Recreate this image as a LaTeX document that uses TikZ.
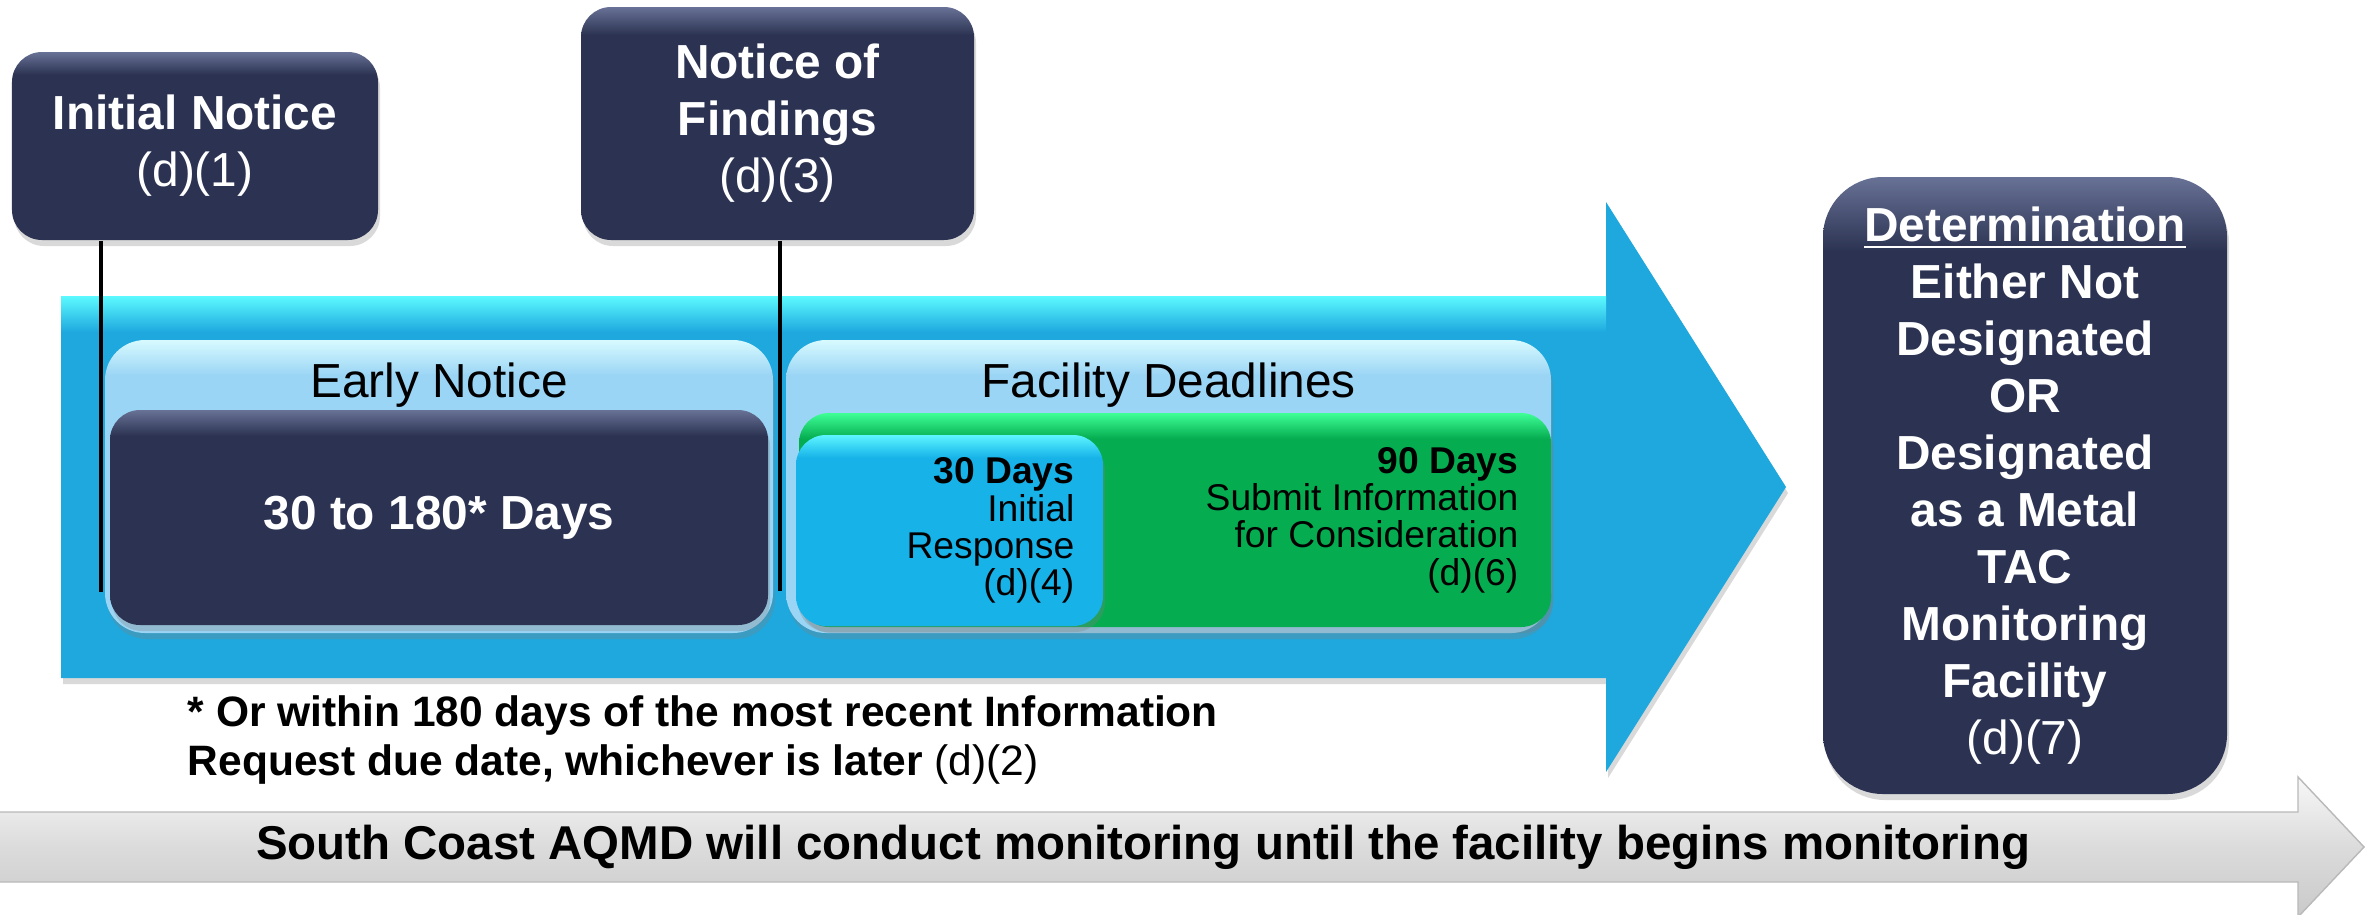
\documentclass[tikz,border=0pt]{standalone}
\usepackage{fontspec}
\setmainfont{Liberation Sans}
\usetikzlibrary{shadows}

\definecolor{navy}{RGB}{44,51,82}
\definecolor{navyhi}{RGB}{104,114,150}
\definecolor{arrowcyan}{RGB}{30,168,222}
\definecolor{arrowhi}{RGB}{92,250,255}
\definecolor{paleblue}{RGB}{155,213,245}
\definecolor{palehi}{RGB}{215,250,255}
\definecolor{deadgreen}{RGB}{5,172,80}
\definecolor{deadgreenhi}{RGB}{62,255,150}
\definecolor{respcyan}{RGB}{22,178,232}
\definecolor{respcyanhi}{RGB}{92,245,255}

% glossy fill: flat colour with a light rim at the top
\newcommand{\glossy}[3]{\pgfdeclareverticalshading{#1}{100bp}{color(0bp)=(#2); color(25bp)=(#2); color(69bp)=(#2); color(75bp)=(#3); color(100bp)=(#3)}}
\glossy{navygloss}{navy}{navyhi}
\glossy{palegloss}{paleblue}{palehi}
\glossy{greengloss}{deadgreen}{deadgreenhi}
\glossy{respgloss}{respcyan}{respcyanhi}

\newcommand{\bigsize}{\fontsize{13.6}{16.2}\selectfont}
\newcommand{\smallsize}{\fontsize{10.6}{10.6}\selectfont}
\newcommand{\notesize}{\fontsize{12.1}{14.2}\selectfont}
\newcommand{\barsize}{\fontsize{13.5}{16}\selectfont}

\tikzset{
  softshadow/.style={drop shadow={opacity=0.3, shadow xshift=0.02cm, shadow yshift=-0.06cm}},
  navybox/.style={rounded corners=0.3cm, shading=navygloss, text=white, align=center, inner sep=0pt, font=\bigsize, softshadow},
  palebox/.style={rounded corners=0.4cm, shading=palegloss, inner sep=0pt, softshadow},
  greenbox/.style={rounded corners=0.3cm, shading=greengloss, inner sep=0pt, softshadow},
  respbox/.style={rounded corners=0.3cm, shading=respgloss, inner sep=0pt, softshadow},
  daytext/.style={anchor=east, align=right, inner sep=0pt, font=\smallsize},
  marker/.style={line width=1.4pt, black},
}

\begin{document}
\begin{tikzpicture}
  \useasboundingbox (0,0) rectangle (23.71,9.14);

  % monitoring bar along the bottom
  \shade[top color=gray!6, bottom color=gray!42, middle color=gray!28, draw=gray!55, line width=0.4pt]
    (-0.05,1.02) -- (22.98,1.02) -- (22.98,1.37) -- (23.64,0.67) -- (22.98,-0.03) -- (22.98,0.32) -- (-0.05,0.32) -- cycle;
  \node[font=\barsize\bfseries] (monitor) at (11.43,0.67) {South Coast AQMD will conduct monitoring until the facility begins monitoring};

  % big timeline arrow
  \fill[arrowcyan, softshadow] (0.61,6.18) -- (16.06,6.18) -- (16.06,7.12) -- (17.86,4.27) -- (16.06,1.42) -- (16.06,2.36) -- (0.61,2.36) -- cycle;
  \shade[top color=arrowhi, bottom color=arrowcyan] (0.61,6.18) rectangle (16.06,5.82);

  % early notice period
  \node[palebox, minimum width=6.68cm, minimum height=2.93cm] (early) at (4.39,4.275) {};
  \node[font=\bigsize] (earlytitle) at (4.39,5.29) {Early Notice};
  \node[navybox, minimum width=6.58cm, minimum height=2.15cm] (earlydays) at (4.39,3.965) {\textbf{30 to 180* Days}};

  % facility deadlines
  \node[palebox, minimum width=7.65cm, minimum height=2.93cm] (facility) at (11.685,4.275) {};
  \node[font=\bigsize] (facilitytitle) at (11.685,5.29) {Facility Deadlines};
  \node[greenbox, minimum width=7.52cm, minimum height=2.14cm] (submit) at (11.75,3.94) {};
  \node[respbox, minimum width=3.07cm, minimum height=1.91cm] (response) at (9.495,3.835) {};
  \node[daytext] (responsetext) at (10.75,3.835) {\textbf{30 Days}\\Initial\\Response\\(d)(4)};
  \node[daytext] (submittext) at (15.19,3.94) {\textbf{90 Days}\\Submit Information\\for Consideration\\(d)(6)};

  % notices above the arrow
  \node[navybox, minimum width=3.66cm, minimum height=1.88cm] (initial) at (1.95,7.68) {\textbf{Initial Notice}\\(d)(1)};
  \node[navybox, minimum width=3.93cm, minimum height=2.33cm] (findings) at (7.775,7.905) {\textbf{Notice of}\\\textbf{Findings}\\(d)(3)};
  \coordinate (initialend) at (1.01,3.22);
  \coordinate (findingsend) at (7.80,3.23);
  \draw[marker] (initial.south -| initialend) -- (initialend);
  \draw[marker] (findings.south -| findingsend) -- (findingsend);

  % outcome
  \node[navybox, rounded corners=0.6cm, minimum width=4.04cm, minimum height=6.17cm, font=\bigsize\bfseries] (determination) at (20.25,4.285)
    {\underline{Determination}\\Either Not\\Designated\\OR\\Designated\\as a Metal\\TAC\\Monitoring\\Facility\\{\mdseries (d)(7)}};

  % footnote
  \node[font=\notesize, align=left, anchor=west, inner sep=0pt] (footnote) at (1.87,1.74)
    {\textbf{* Or within 180 days of the most recent Information}\\\textbf{Request due date, whichever is later} (d)(2)};
\end{tikzpicture}
\end{document}
